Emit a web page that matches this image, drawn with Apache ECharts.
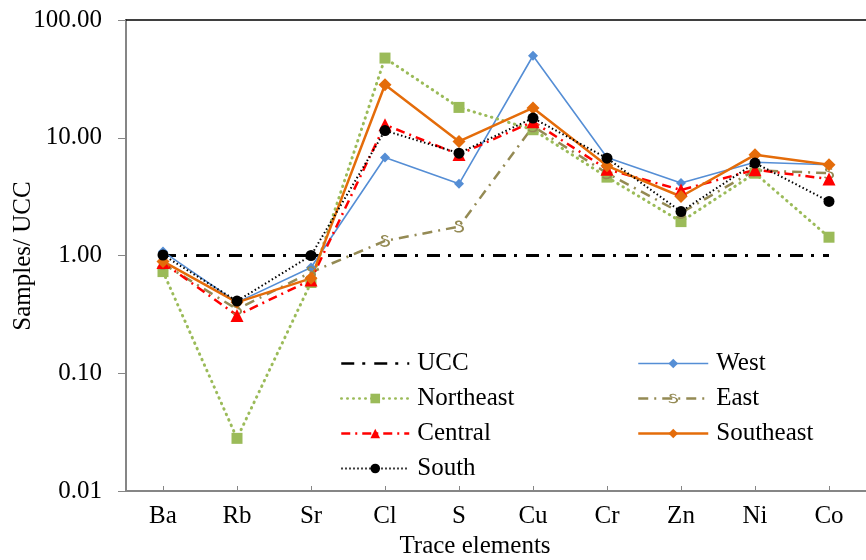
<!DOCTYPE html>
<html>
<head>
<meta charset="utf-8">
<script src="https://cdn.jsdelivr.net/npm/echarts@6/dist/echarts.min.js"></script>
<style>
  html, body { margin: 0; padding: 0; background: #fff; }
  #chart { width: 866px; height: 560px; }
</style>
</head>
<body>
<div id="chart"></div>
<script>
// Trace element concentrations normalised to the upper continental crust (UCC)
const categories = ['Ba', 'Rb', 'Sr', 'Cl', 'S', 'Cu', 'Cr', 'Zn', 'Ni', 'Co'];
const ucc       = [1, 1, 1, 1, 1, 1, 1, 1, 1, 1];
const west      = [1.08, 0.40, 0.79, 6.8, 4.06, 49.7, 6.8, 4.12, 6.2, 5.9];
const northeast = [0.73, 0.028, 0.59, 47.5, 18.1, 11.7, 4.63, 1.94, 5.0, 1.43];
const east      = [0.85, 0.35, 0.72, 1.33, 1.76, 12.5, 5.0, 2.3, 5.3, 5.0];
const central   = [0.87, 0.31, 0.62, 12.9, 7.2, 13.7, 5.4, 3.6, 5.35, 4.46];
const southeast = [0.89, 0.40, 0.64, 28.2, 9.3, 17.9, 5.78, 3.17, 7.16, 5.89];
const south     = [1.01, 0.41, 1.0, 11.5, 7.4, 14.7, 6.7, 2.36, 6.1, 2.88];
const yTicks    = ['0.01', '0.10', '1.00', '10.00', '100.00'];
const legendLeftCol  = ['UCC', 'Northeast', 'Central', 'South'];
const legendRightCol = ['West', 'East', 'Southeast'];

const FONT = 'Liberation Serif';
const CSS_FONT = '25px "Liberation Serif", "Times New Roman", serif';
const AXIS_GREY = '#868686';

// S-shaped marker used for the East series
const S_SYMBOL = 'path://M9,2.5 C7,0 1,0 1.5,3.5 C2,6 8.5,5 8.5,8.5 C8.5,11 3,11.5 1.5,9.5 L0.5,10.5 C3,13.5 10.5,12.5 10.5,8.5 C10.5,4 4,5.5 3.5,3.5 C3,1.5 7,1.5 8,3.5 Z';

// Line and marker look of every series, shared by the plot and the legend
const styles = {
  UCC:       { color: '#000',    width: 3,   type: [13, 8, 3, 9], symbol: 'none',     size: 0 },
  West:      { color: '#558ED5', width: 1.6, type: 'solid',       symbol: 'diamond',  size: 10 },
  Northeast: { color: '#9BBB59', width: 3,   type: [0.5, 5.5],    symbol: 'rect',     size: 11, cap: 'round' },
  East:      { color: '#948A54', width: 2.5, type: [10, 6, 2, 6], symbol: S_SYMBOL,   size: [10, 12] },
  Central:   { color: '#FF0000', width: 2.5, type: [9, 5, 2, 5],  symbol: 'triangle', size: 13 },
  Southeast: { color: '#E46C0A', width: 2.5, type: 'solid',       symbol: 'diamond',  size: 13 },
  South:     { color: '#000',    width: 2,   type: [1.5, 2.5],    symbol: 'circle',   size: 11 }
};
const seriesData = { UCC: ucc, West: west, Northeast: northeast, East: east, Central: central, Southeast: southeast, South: south };
const seriesOrder = ['UCC', 'West', 'Northeast', 'East', 'Central', 'Southeast', 'South'];

function legendItem(name) {
  const s = styles[name];
  return {
    name: name,
    lineStyle: { color: s.color, width: Math.min(s.width, 2.5), type: s.type, cap: s.cap || 'butt' },
    itemStyle: s.symbol === 'none' ? { opacity: 0 } : { color: s.color }
  };
}

function legendBlock(names, left, itemWidth) {
  return {
    orient: 'vertical',
    left: left, top: 346,
    padding: 5,
    itemWidth: itemWidth, itemHeight: 12, itemGap: 10,
    textStyle: { fontFamily: FONT, fontSize: 25, color: '#000', padding: [0, 0, 0, 3] },
    data: names.map(legendItem)
  };
}

const chart = echarts.init(document.getElementById('chart'), null, { renderer: 'canvas' });

chart.setOption({
  animation: false,
  backgroundColor: '#fff',
  textStyle: { fontFamily: FONT },
  grid: { left: 126, top: 20, width: 750, height: 471, containLabel: false },
  xAxis: [{
    type: 'category',
    data: categories,
    boundaryGap: true,
    axisLine: { lineStyle: { color: AXIS_GREY, width: 2 } },
    axisTick: { show: true, alignWithLabel: true, inside: true, length: 5, lineStyle: { color: AXIS_GREY, width: 1 } },
    axisLabel: { interval: 0, margin: 13, fontFamily: FONT, fontSize: 25, color: '#000' },
    splitLine: { show: false }
  }, {
    type: 'category',
    data: categories,
    position: 'top',
    boundaryGap: true,
    axisLine: { lineStyle: { color: '#000', width: 1.5 } },
    axisTick: { show: false },
    axisLabel: { show: false },
    splitLine: { show: false }
  }],
  yAxis: {
    type: 'log',
    logBase: 10,
    min: 0.01,
    max: 100,
    axisLine: { show: true, lineStyle: { color: AXIS_GREY, width: 2 } },
    axisTick: { show: true, length: 8, lineStyle: { color: AXIS_GREY, width: 1 } },
    axisLabel: {
      margin: 24,
      fontFamily: FONT, fontSize: 25, color: '#000',
      formatter: function (v) {
        const i = Math.round(Math.log10(v)) + 2;
        return yTicks[i] !== undefined ? yTicks[i] : v.toFixed(2);
      }
    },
    splitLine: { show: false },
    minorTick: { show: false }
  },
  legend: [legendBlock(legendLeftCol, 335, 68), legendBlock(legendRightCol, 632, 70)],
  graphic: [{
    type: 'text',
    style: { text: 'Trace elements', font: CSS_FONT, fill: '#000', textAlign: 'center', textVerticalAlign: 'middle' },
    x: 475, y: 546
  }, {
    type: 'text',
    style: { text: 'Samples/ UCC', font: CSS_FONT, fill: '#000', textAlign: 'center', textVerticalAlign: 'middle' },
    x: 23, y: 256, rotation: Math.PI / 2
  }],
  series: seriesOrder.map(function (name) {
    const s = styles[name];
    return {
      name: name,
      type: 'line',
      data: seriesData[name],
      symbol: s.symbol,
      symbolSize: s.size,
      lineStyle: { color: s.color, width: s.width, type: s.type, cap: s.cap || 'butt' },
      itemStyle: { color: s.color }
    };
  })
});
</script>
</body>
</html>
